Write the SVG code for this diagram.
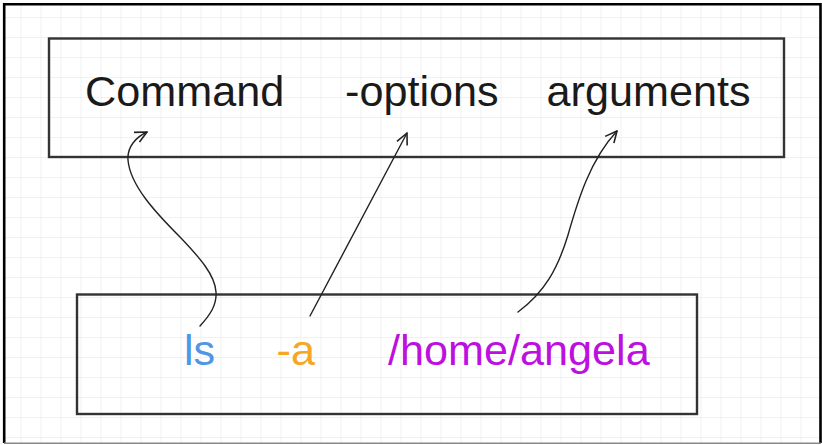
<svg xmlns="http://www.w3.org/2000/svg" width="822" height="445" viewBox="0 0 822 445">
<defs>
<pattern id="grid" x="0.5" y="-3" width="20" height="20" patternUnits="userSpaceOnUse">
<path d="M 20 0 L 0 0 L 0 20" fill="none" stroke="#e4e4e4" stroke-width="1"/>
</pattern>
<marker id="arr" markerUnits="userSpaceOnUse" markerWidth="20" markerHeight="20" refX="0" refY="0" viewBox="-14 -10 20 20" orient="auto">
<path d="M -12 -5 L 0 0 L -11 6" fill="none" stroke="#222" stroke-width="1.6" stroke-linejoin="round"/>
</marker>
<style>
.box{fill:none;stroke:#333;stroke-width:2.4}
.t{font-family:"Liberation Sans",Arial,sans-serif;font-size:43.2px}
.k{fill:#1a1a1a}
.c{fill:none;stroke:#222;stroke-width:1.4;stroke-linecap:round}
</style>
</defs>
<rect x="0" y="0" width="822" height="445" fill="#ffffff"/>
<rect x="4" y="4" width="816" height="439" fill="url(#grid)"/>
<g id="frame">
<path d="M 4.2 443 L 4.2 4.2 L 820.5 4.2 L 820.5 443" fill="none" stroke="#000" stroke-width="2.6"/>
<line x1="4" y1="443.3" x2="821" y2="443.3" stroke="#888" stroke-width="1.5"/>
</g>
<g id="node-syntax">
<rect class="box" x="49" y="38.5" width="735" height="118.5"/>
<text class="t k" x="85" y="106">Command</text>
<text class="t k" x="345" y="106">-options</text>
<text class="t k" x="546.5" y="106">arguments</text>
</g>
<g id="node-example">
<rect class="box" x="77" y="294.5" width="620" height="119.5"/>
<text class="t" x="184" y="365" fill="#4f96e6">ls</text>
<text class="t" x="276.5" y="365" fill="#f5a623">-a</text>
<text class="t" x="388" y="365" fill="#bd10e0">/home/angela</text>
</g>
<g id="connectors">
<path class="c" d="M 200 326 C 210 315, 217 305, 216 292 C 215 275, 200 258, 180 237 C 155 212, 130 185, 128 160 C 127 147, 136 137, 147 132" marker-end="url(#arr)"/>
<path class="c" d="M 310 316 L 407 133" marker-end="url(#arr)"/>
<path class="c" d="M 518 312 C 545 292, 558 268, 568 235 C 578 200, 590 160, 617 131" marker-end="url(#arr)"/>
</g>
</svg>
